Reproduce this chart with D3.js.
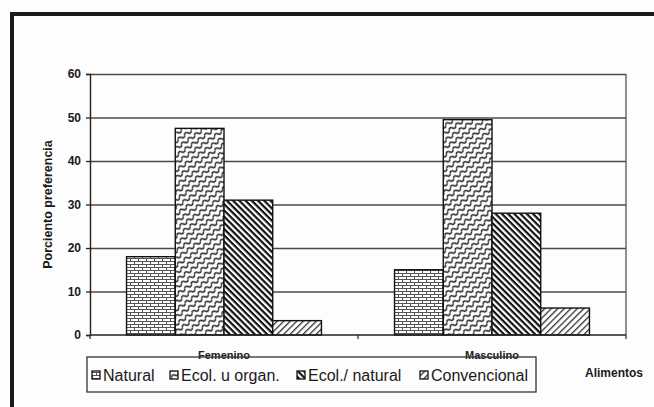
<!DOCTYPE html>
<html>
<head>
<meta charset="utf-8">
<script src="https://cdn.jsdelivr.net/npm/d3@7"></script>
<style>
  body { margin: 0; background: #fdfdfd; }
  svg { display: block; font-family: Arial, "Liberation Sans", sans-serif; }
</style>
</head>
<body>
<div id="chart"></div>
<script>
var categories = ["Femenino", "Masculino"];
var series = ["Natural", "Ecol. u organ.", "Ecol./ natural", "Convencional"];
var femenino = [18, 47.5, 31, 3.3];
var masculino = [15, 49.5, 28, 6.2];
var yTicks = [0, 10, 20, 30, 40, 50, 60];

var width = 654, height = 407;
var plot = {left: 90, top: 74, right: 626, bottom: 335};

var svg = d3.select("#chart").append("svg")
    .attr("width", width).attr("height", height);

// patterns, one per series
var defs = svg.append("defs");

var pBrick = defs.append("pattern").attr("id", "p0")
    .attr("patternUnits", "userSpaceOnUse").attr("width", 8).attr("height", 6);
pBrick.append("rect").attr("width", 8).attr("height", 6).attr("fill", "#fff");
pBrick.append("path")
    .attr("d", "M0,0.5H8M0,3.5H8M0.5,0.5V3.5M4.5,3.5V6")
    .attr("stroke", "#555").attr("stroke-width", 1).attr("fill", "none");

var pWave = defs.append("pattern").attr("id", "p1")
    .attr("patternUnits", "userSpaceOnUse").attr("width", 8).attr("height", 6)
    .attr("patternTransform", "rotate(-35)");
pWave.append("rect").attr("width", 8).attr("height", 6).attr("fill", "#fff");
pWave.append("path")
    .attr("d", "M0,3 q2,-3 4,0 t4,0")
    .attr("stroke", "#222").attr("stroke-width", 1.5).attr("fill", "none");

var pDark = defs.append("pattern").attr("id", "p2")
    .attr("patternUnits", "userSpaceOnUse").attr("width", 4.4).attr("height", 4.4)
    .attr("patternTransform", "rotate(45)");
pDark.append("rect").attr("width", 4.4).attr("height", 4.4).attr("fill", "#fff");
pDark.append("rect").attr("width", 4.4).attr("height", 2.2).attr("fill", "#111");

var pLight = defs.append("pattern").attr("id", "p3")
    .attr("patternUnits", "userSpaceOnUse").attr("width", 4.6).attr("height", 4.6)
    .attr("patternTransform", "rotate(-45)");
pLight.append("rect").attr("width", 4.6).attr("height", 4.6).attr("fill", "#fff");
pLight.append("rect").attr("width", 4.6).attr("height", 1.3).attr("fill", "#333");

// outer thick frame
svg.append("rect")
    .attr("x", 12).attr("y", 14).attr("width", 720).attr("height", 500)
    .attr("fill", "none").attr("stroke", "#1a1a1a").attr("stroke-width", 4);

var x0 = d3.scaleBand().domain(categories).range([plot.left, plot.right]);
var x1 = d3.scaleBand().domain(series).range([0, x0.bandwidth()]).paddingOuter(0.75);
var y = d3.scaleLinear().domain([0, 60]).range([plot.bottom, plot.top]);

var rows = [femenino, masculino];

// gridlines
svg.append("g")
    .attr("transform", "translate(" + plot.left + ",0)")
    .call(d3.axisLeft(y).tickValues(yTicks.slice(1)).tickSize(-(plot.right - plot.left)).tickFormat(""))
    .call(function(g) {
        g.select(".domain").remove();
        g.selectAll("line").attr("stroke", "#4a4a4a").attr("stroke-width", 1.3);
    });

// right border of plot
svg.append("line")
    .attr("x1", plot.right).attr("x2", plot.right)
    .attr("y1", plot.top).attr("y2", plot.bottom)
    .attr("stroke", "#555").attr("stroke-width", 1.3);

// bars
var groups = svg.selectAll("g.cat").data(categories).enter().append("g")
    .attr("class", "cat")
    .attr("transform", function(d) { return "translate(" + x0(d) + ",0)"; });

groups.selectAll("rect").data(function(d, i) {
        return series.map(function(s, j) { return {s: s, j: j, v: rows[i][j]}; });
    })
    .enter().append("rect")
    .attr("x", function(d) { return x1(d.s); })
    .attr("y", function(d) { return y(d.v); })
    .attr("width", x1.bandwidth())
    .attr("height", function(d) { return y(0) - y(d.v); })
    .attr("fill", function(d) { return "url(#p" + d.j + ")"; })
    .attr("stroke", "#111").attr("stroke-width", 1.4);

// y axis
svg.append("g")
    .attr("transform", "translate(" + plot.left + ",0)")
    .call(d3.axisLeft(y).tickValues(yTicks).tickSize(4).tickPadding(5))
    .call(function(g) {
        g.select(".domain").attr("stroke", "#222").attr("stroke-width", 1.4);
        g.selectAll("line").attr("stroke", "#222").attr("stroke-width", 1.3);
        g.selectAll("text").attr("font-size", 12).attr("font-weight", "bold").attr("fill", "#1a1a1a")
            .attr("font-family", "Arial, 'Liberation Sans', sans-serif");
    });

// x axis line and ticks at category edges
svg.append("line")
    .attr("x1", plot.left).attr("x2", plot.right)
    .attr("y1", plot.bottom).attr("y2", plot.bottom)
    .attr("stroke", "#222").attr("stroke-width", 1.4);

var edges = categories.map(function(c) { return x0(c); }).concat([x0.range()[1]]);
svg.selectAll("line.xtick").data(edges).enter().append("line")
    .attr("class", "xtick")
    .attr("x1", function(d) { return d; }).attr("x2", function(d) { return d; })
    .attr("y1", plot.bottom).attr("y2", plot.bottom + 4)
    .attr("stroke", "#222").attr("stroke-width", 1.2);

svg.selectAll("text.cat").data(categories).enter().append("text")
    .attr("class", "cat")
    .attr("x", function(d) { return x0(d) + x0.bandwidth() / 2; })
    .attr("y", 359)
    .attr("text-anchor", "middle")
    .attr("font-size", 11).attr("font-weight", "bold").attr("fill", "#222")
    .text(function(d) { return d; });

// axis titles
svg.append("text")
    .attr("transform", "translate(52," + ((plot.top + plot.bottom) / 2) + ") rotate(-90)")
    .attr("text-anchor", "middle")
    .attr("font-size", 12.5).attr("font-weight", "bold").attr("fill", "#1a1a1a")
    .text("Porciento preferencia");

svg.append("text")
    .attr("x", 585).attr("y", 377)
    .attr("font-size", 12).attr("font-weight", "bold").attr("fill", "#1a1a1a")
    .text("Alimentos");

// legend
var legend = svg.append("g");
legend.append("rect")
    .attr("x", 87).attr("y", 357).attr("width", 449).attr("height", 35)
    .attr("fill", "none").attr("stroke", "#333").attr("stroke-width", 1.3);

var legendX = [92, 170, 297, 420];
var items = legend.selectAll("g.item").data(series).enter().append("g")
    .attr("class", "item")
    .attr("transform", function(d, i) { return "translate(" + legendX[i] + ",375)"; });
items.append("rect")
    .attr("x", 0).attr("y", -4).attr("width", 8).attr("height", 8)
    .attr("fill", function(d, i) { return "url(#p" + i + ")"; })
    .attr("stroke", "#111").attr("stroke-width", 1.3);
items.append("text")
    .attr("x", 11).attr("y", 5.5)
    .attr("font-size", 16).attr("fill", "#1a1a1a")
    .text(function(d) { return d; });
</script>
</body>
</html>
